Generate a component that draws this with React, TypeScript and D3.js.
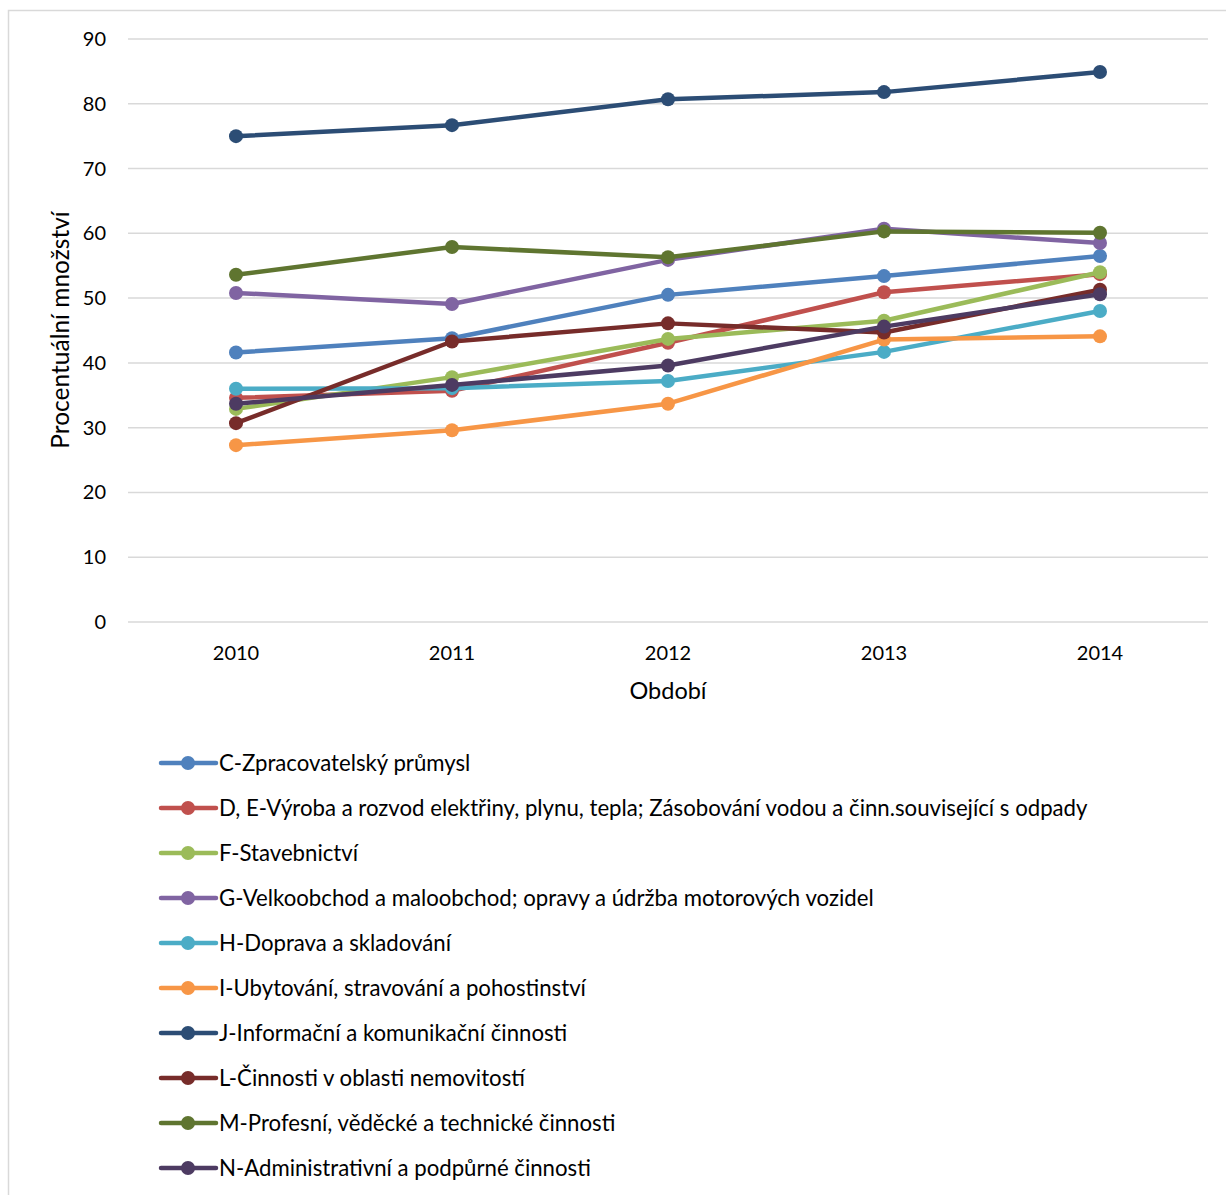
import React, { useEffect, useRef } from 'react';
import * as d3 from 'd3';

const years = ['2010', '2011', '2012', '2013', '2014'];
const yTicks = [0, 10, 20, 30, 40, 50, 60, 70, 80, 90];

const seriesNames = [
  'C-Zpracovatelský průmysl',
  'D, E-Výroba a rozvod elektřiny, plynu, tepla; Zásobování vodou a činn.související s odpady',
  'F-Stavebnictví',
  'G-Velkoobchod a maloobchod; opravy a údržba motorových vozidel',
  'H-Doprava a skladování',
  'I-Ubytování, stravování a pohostinství',
  'J-Informační a komunikační činnosti',
  'L-Činnosti v oblasti nemovitostí',
  'M-Profesní, věděcké a technické činnosti',
  'N-Administrativní a podpůrné činnosti',
];

const seriesColors = [
  '#4F81BD', '#C0504D', '#9BBB59', '#8064A2', '#4BACC6',
  '#F79646', '#2C4D75', '#772C2A', '#5F7530', '#4D3B62',
];

const valuesC = [41.6, 43.8, 50.5, 53.4, 56.5];
const valuesD = [34.6, 35.7, 43.1, 50.9, 53.7];
const valuesF = [32.9, 37.8, 43.7, 46.5, 54.0];
const valuesG = [50.8, 49.1, 55.9, 60.7, 58.5];
const valuesH = [36.0, 36.1, 37.2, 41.7, 48.0];
const valuesI = [27.3, 29.6, 33.7, 43.6, 44.1];
const valuesJ = [75.0, 76.7, 80.7, 81.8, 84.9];
const valuesL = [30.7, 43.3, 46.1, 44.7, 51.3];
const valuesM = [53.6, 57.9, 56.3, 60.3, 60.1];
const valuesN = [33.7, 36.6, 39.6, 45.6, 50.6];

const allValues = [valuesC, valuesD, valuesF, valuesG, valuesH, valuesI, valuesJ, valuesL, valuesM, valuesN];

const FONT = 'Lato, "Open Sans", sans-serif';

const App: React.FC = () => {
  const svgRef = useRef<SVGSVGElement | null>(null);

  useEffect(() => {
    if (!svgRef.current) return;
    const width = 1226;
    const height = 1195;
    const margin = { top: 39, left: 128, right: 18 };
    const plotBottom = 622;

    const svg = d3.select(svgRef.current);
    svg.selectAll('*').remove();

    // chart frame (only top and left edges visible)
    svg.append('path')
      .attr('d', `M8.5,${height} L8.5,10.5 L${width},10.5`)
      .attr('fill', 'none')
      .attr('stroke', '#D9D9D9')
      .attr('stroke-width', 1.5);

    const x = d3.scalePoint<string>()
      .domain(years)
      .range([236, 1100]);

    const y = d3.scaleLinear()
      .domain([0, 90])
      .range([plotBottom, margin.top]);

    // gridlines
    svg.append('g')
      .selectAll('line')
      .data(yTicks)
      .enter()
      .append('line')
      .attr('x1', margin.left)
      .attr('x2', width - margin.right)
      .attr('y1', d => y(d))
      .attr('y2', d => y(d))
      .attr('stroke', '#D9D9D9')
      .attr('stroke-width', 1.5);

    // y tick labels
    svg.append('g')
      .selectAll('text')
      .data(yTicks)
      .enter()
      .append('text')
      .attr('x', 106)
      .attr('y', d => y(d))
      .attr('dy', '0.35em')
      .attr('text-anchor', 'end')
      .attr('font-family', FONT)
      .attr('font-size', 20)
      .attr('fill', '#000')
      .text(d => d);

    // x tick labels
    svg.append('g')
      .selectAll('text')
      .data(years)
      .enter()
      .append('text')
      .attr('x', d => x(d)!)
      .attr('y', 653)
      .attr('dy', '0.35em')
      .attr('text-anchor', 'middle')
      .attr('font-family', FONT)
      .attr('font-size', 20)
      .attr('fill', '#000')
      .text(d => d);

    // axis titles
    svg.append('text')
      .attr('x', 668)
      .attr('y', 691)
      .attr('dy', '0.35em')
      .attr('text-anchor', 'middle')
      .attr('font-family', FONT)
      .attr('font-size', 23.5)
      .text('Období');

    svg.append('text')
      .attr('transform', `translate(60, 330) rotate(-90)`)
      .attr('dy', '0.35em')
      .attr('text-anchor', 'middle')
      .attr('font-family', FONT)
      .attr('font-size', 24.5)
      .text('Procentuální množství');

    const line = d3.line<number>()
      .x((_, i) => x(years[i])!)
      .y(d => y(d));

    // series lines + markers
    allValues.forEach((vals, si) => {
      const g = svg.append('g');
      g.append('path')
        .datum(vals)
        .attr('fill', 'none')
        .attr('stroke', seriesColors[si])
        .attr('stroke-width', 4.5)
        .attr('stroke-linejoin', 'round')
        .attr('d', line);
      g.selectAll('circle')
        .data(vals)
        .enter()
        .append('circle')
        .attr('cx', (_, i) => x(years[i])!)
        .attr('cy', d => y(d))
        .attr('r', 7)
        .attr('fill', seriesColors[si]);
    });

    // legend
    const legend = svg.append('g');
    seriesNames.forEach((name, i) => {
      const ly = 763 + i * 45;
      const item = legend.append('g');
      item.append('line')
        .attr('x1', 161)
        .attr('x2', 216)
        .attr('y1', ly)
        .attr('y2', ly)
        .attr('stroke', seriesColors[i])
        .attr('stroke-width', 4.5)
        .attr('stroke-linecap', 'round');
      item.append('circle')
        .attr('cx', 188)
        .attr('cy', ly)
        .attr('r', 7)
        .attr('fill', seriesColors[i]);
      item.append('text')
        .attr('x', 219)
        .attr('y', ly)
        .attr('dy', '0.35em')
        .attr('font-family', FONT)
        .attr('font-size', 22.2)
        .attr('fill', '#000')
        .text(name);
    });

    svg.attr('width', width).attr('height', height);
  }, []);

  return (
    <div style={{ position: 'absolute', left: 0, top: 0, background: '#fff' }}>
      <svg ref={svgRef} style={{ display: 'block' }} />
    </div>
  );
};

export default App;
